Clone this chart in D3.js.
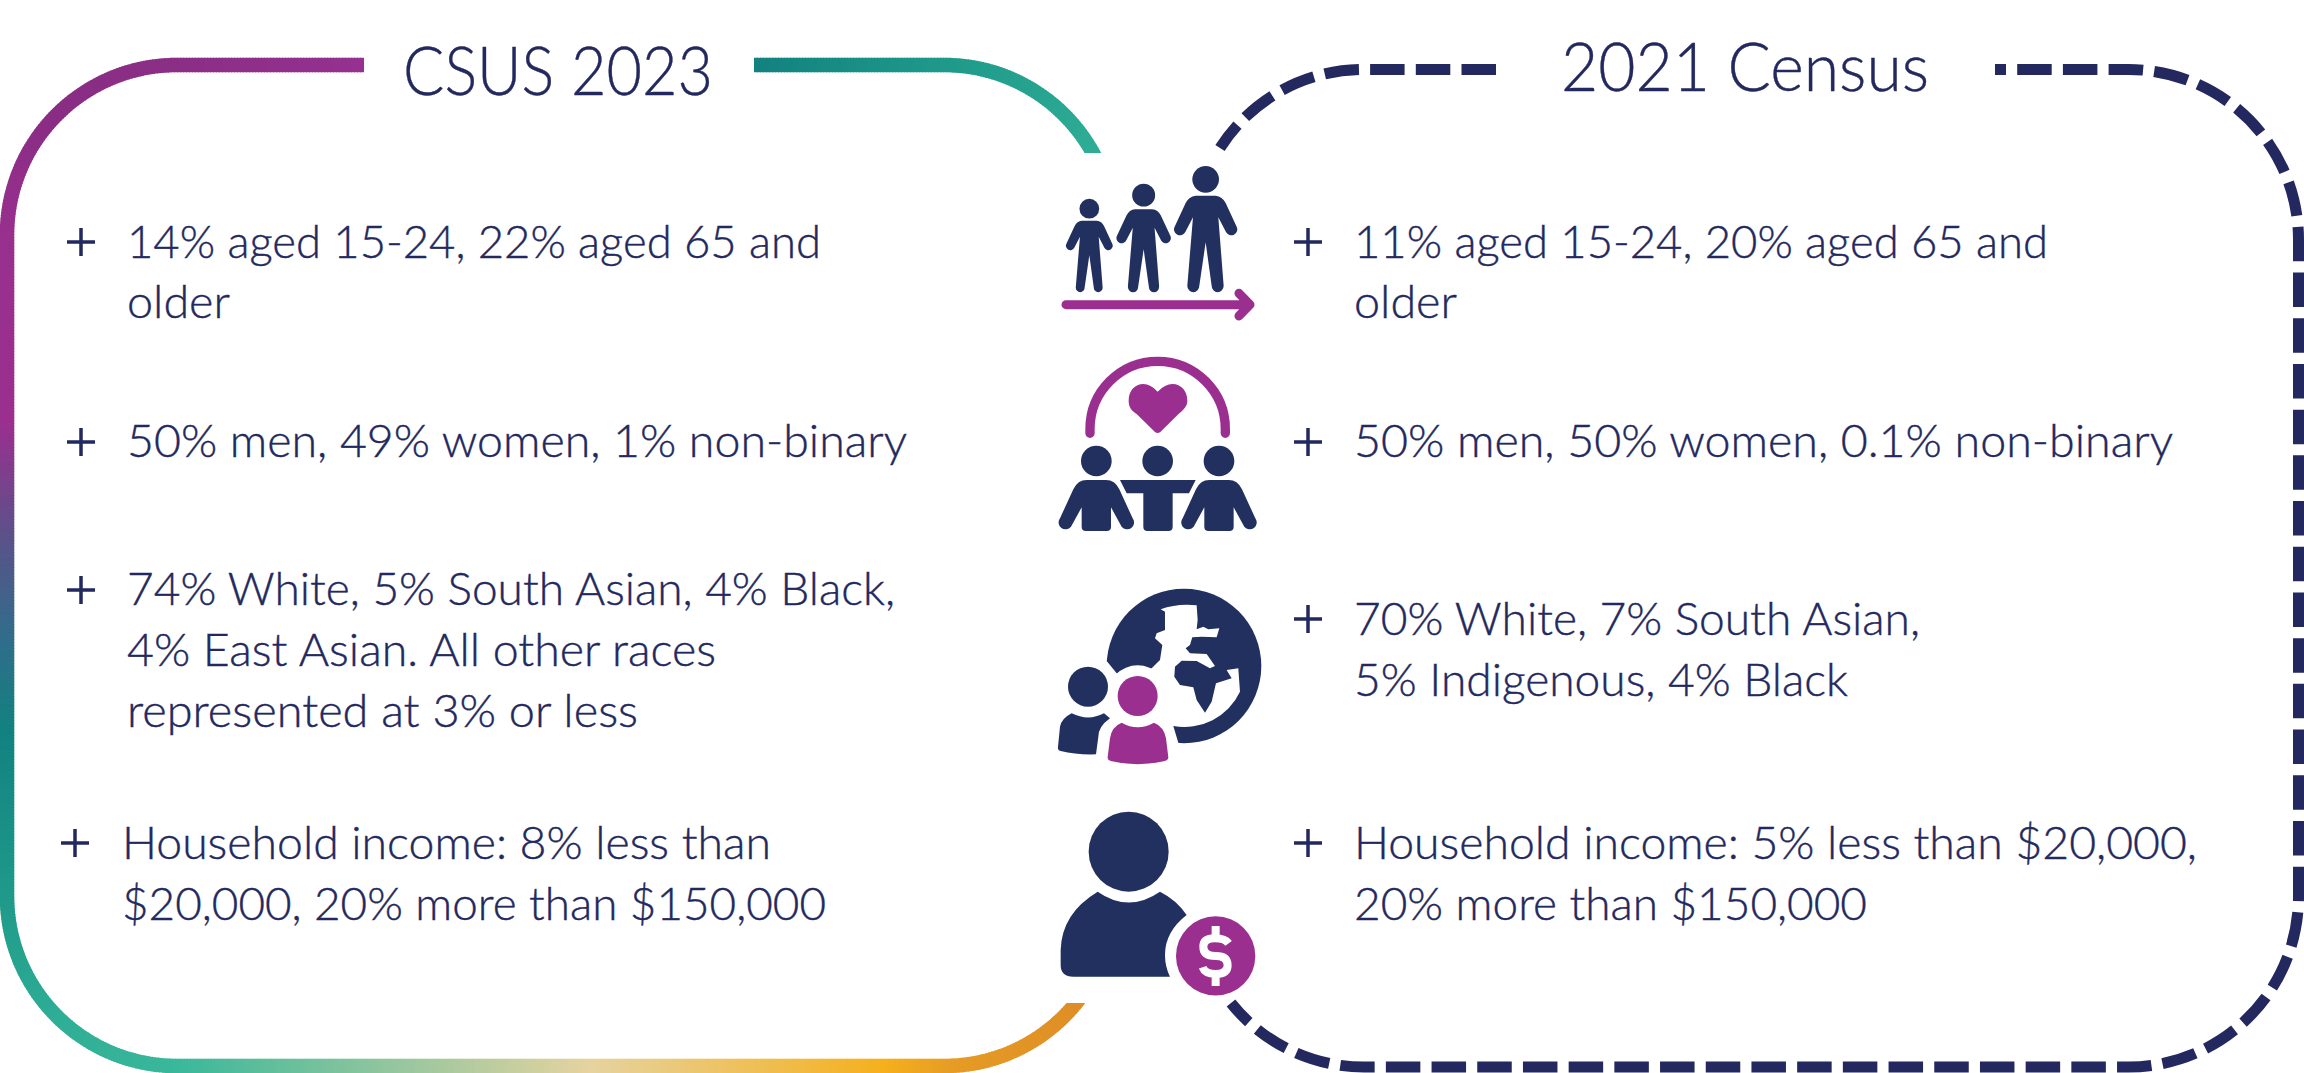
<!DOCTYPE html>
<html>
<head>
<meta charset="utf-8">
<script src="https://cdn.jsdelivr.net/npm/d3@7"></script>
<style>
  html, body { margin: 0; padding: 0; background: #fff; overflow: hidden; }
  text { font-family: Lato, "Noto Sans", sans-serif; font-weight: 300; fill: #23295e; stroke: #23295e; stroke-width: 0.4; }
</style>
</head>
<body>
<div id="chart"></div>
<script>
const titles = ["CSUS 2023", "2021 Census"];

const csusLines = [
    "14% aged 15-24, 22% aged 65 and",
    "older",
    "50% men, 49% women, 1% non-binary",
    "74% White, 5% South Asian, 4% Black,",
    "4% East Asian. All other races",
    "represented at 3% or less",
    "Household income: 8% less than",
    "$20,000, 20% more than $150,000"
];

const censusLines = [
    "11% aged 15-24, 20% aged 65 and",
    "older",
    "50% men, 50% women, 0.1% non-binary",
    "70% White, 7% South Asian,",
    "5% Indigenous, 4% Black",
    "Household income: 5% less than $20,000,",
    "20% more than $150,000"
];

// layout, same order as the text lists: [x0, x1, baseline]
const titleBoxes = [[403, 713, 95], [1561, 1929, 91]];
const csusBoxes = [[127, 821, 258], [127, 230, 318], [127, 907, 457], [127, 895, 605],
    [127, 716, 666], [127, 638, 727], [122, 771, 859], [122, 826, 920]];
const censusBoxes = [[1354, 2048, 258], [1354, 1457, 318], [1354, 2173, 457], [1354, 1920, 635],
    [1354, 1848, 696], [1354, 2197, 859], [1354, 1867, 920]];
const plusMarks = [[81, 242], [81, 442], [81, 590], [75, 843],
    [1308, 242], [1308, 442], [1308, 619], [1308, 843]];

const navy = "#21305e";
const purple = "#9b2f8f";
const ink = "#23295e";

// colour of the solid frame by distance along its path
const frameStops = [0, 187, 330, 454, 640, 752, 859, 949, 1115, 1250, 1382, 1793, 2087, 2160, 2300];
const frameColors = ["#953190", "#8b2e86", "#8a2d84", "#98308e", "#9b2f8f", "#5c5189", "#2f6e8a", "#128280",
    "#1f9a8a", "#2fae96", "#3ab89b", "#e6d3a0", "#f5b01d", "#e59b25", "#de8e26"];
const topRightStops = [0, 194, 380];
const topRightColors = ["#128280", "#1f9a8a", "#2fae96"];

const width = 2304;
const height = 1073;

const svg = d3.select("#chart").append("svg")
    .attr("width", width)
    .attr("height", height)
    .style("display", "block");

const defs = svg.append("defs");
const leftClip = defs.append("clipPath").attr("id", "leftClip");
leftClip.append("rect").attr("x", 0).attr("y", 0).attr("width", 700).attr("height", 1073);
leftClip.append("rect").attr("x", 700).attr("y", 1003).attr("width", 500).attr("height", 70);
defs.append("clipPath").attr("id", "topClip").append("rect")
    .attr("x", 700).attr("y", 0).attr("width", 500).attr("height", 153);

// solid frame, cut into short pieces so the colour can follow the line
function gradientStroke(d, stops, colors, clipId) {
    const probe = svg.append("path").attr("d", d).attr("fill", "none");
    const node = probe.node();
    const total = node.getTotalLength();
    const color = d3.scaleLinear().domain(stops).range(colors).clamp(true);
    const line = d3.line();
    const g = svg.append("g").attr("clip-path", "url(#" + clipId + ")");
    const step = 3;
    for (let s = 0; s < total; s += step) {
        const a = node.getPointAtLength(s);
        const b = node.getPointAtLength(Math.min(s + step + 1, total));
        g.append("path")
            .attr("d", line([[a.x, a.y], [b.x, b.y]]))
            .attr("fill", "none")
            .attr("stroke", color(s))
            .attr("stroke-width", 14.5);
    }
    probe.remove();
}

gradientStroke("M364,65 L177,65 A170,170 0 0 0 7,235 L7,896 A170,170 0 0 0 177,1066 L944,1066 A170,170 0 0 0 1114,896",
    frameStops, frameColors, "leftClip");
gradientStroke("M754,65 L944,65 A170,170 0 0 1 1114,235",
    topRightStops, topRightColors, "topClip");

// dashed frame
svg.append("path")
    .attr("d", "M1496,69.5 L1364,69.5 A170,170 0 0 0 1220,148")
    .attr("fill", "none").attr("stroke", ink).attr("stroke-width", 11)
    .attr("stroke-dasharray", "34.5 11.2");
svg.append("path")
    .attr("d", "M1995,69.5 L2128.5,69.5 A170,170 0 0 1 2298.5,239.5 L2298.5,897 A170,170 0 0 1 2128.5,1067 L1364,1067 A170,170 0 0 1 1231,1003")
    .attr("fill", "none").attr("stroke", ink).attr("stroke-width", 11)
    .attr("stroke-dasharray", "34.5 11.2")
    .attr("stroke-dashoffset", 23.5);

// text
function fittedText(lines, boxes, size) {
    svg.append("g").selectAll("text")
        .data(lines)
        .enter()
        .append("text")
        .attr("x", (d, i) => boxes[i][0])
        .attr("y", (d, i) => boxes[i][2])
        .attr("font-size", size)
        .attr("textLength", (d, i) => boxes[i][1] - boxes[i][0])
        .attr("lengthAdjust", "spacingAndGlyphs")
        .text(d => d);
}
fittedText(titles, titleBoxes, 67);
fittedText(csusLines, csusBoxes, 46);
fittedText(censusLines, censusBoxes, 46);

// plus bullets
svg.append("g").selectAll("path")
    .data(plusMarks)
    .enter()
    .append("path")
    .attr("d", d => "M" + (d[0] - 14) + "," + d[1] + "H" + (d[0] + 14) + "M" + d[0] + "," + (d[1] - 14) + "V" + (d[1] + 14))
    .attr("stroke", ink)
    .attr("stroke-width", 3.5)
    .attr("fill", "none");

// icons are sketched in crop pixels, 3x the page
const iconsTop = svg.append("g").attr("transform", "translate(1030,150) scale(0.3333)");
const iconsBottom = svg.append("g").attr("transform", "translate(1030,560) scale(0.3333)");

const standingBody = "M-30,-290 L30,-290 Q50,-288 60,-268 L93,-197 A17,17 0 0 1 61,-181 L38,-225 L54,-20 " +
    "A18,20 0 0 1 18,-20 L0,-150 L-19,-20 A18,20 0 0 1 -55,-20 L-38,-225 L-61,-181 A17,17 0 0 1 -93,-197 " +
    "L-60,-268 Q-50,-288 -30,-290 Z";

[[178, 0.74], [341, 0.86], [527, 1]].forEach(function (p) {
    const g = iconsTop.append("g").attr("transform", "translate(" + p[0] + ",427) scale(" + p[1] + ")");
    g.append("circle").attr("cy", -339).attr("r", 40).attr("fill", navy);
    g.append("path").attr("d", standingBody).attr("fill", navy);
});

iconsTop.append("path")
    .attr("d", "M108,464 H660 M627,430 L660,464 L627,498")
    .attr("fill", "none").attr("stroke", purple).attr("stroke-width", 27)
    .attr("stroke-linecap", "round").attr("stroke-linejoin", "round");

// couple of people and a table under a heart
iconsTop.append("path")
    .attr("d", "M180,850 L180,837 A203,203 0 0 1 586,837 L586,850")
    .attr("fill", "none").attr("stroke", purple).attr("stroke-width", 28).attr("stroke-linecap", "round");
iconsTop.append("path")
    .attr("d", "M383,725 Q362,702 340,702 C315,702 296,722 296,752 C296,772 305,782 320,792 L375,846 Q383,852 391,846 " +
        "L448,790 C462,778 472,768 472,752 C472,722 452,702 428,702 Q405,702 383,725 Z")
    .attr("fill", purple);

const seatedBody = "M170,990 L228,990 Q255,990 268,1018 L308,1105 A19,19 0 0 1 275,1130 L243,1072 L243,1130 " +
    "Q243,1143 230,1143 L168,1143 Q155,1143 155,1130 L155,1072 L123,1130 A19,19 0 0 1 90,1105 L130,1018 Q143,990 170,990 Z";
[0, 368].forEach(function (dx) {
    iconsTop.append("circle").attr("cx", 199 + dx).attr("cy", 933).attr("r", 46).attr("fill", navy);
    iconsTop.append("path").attr("d", seatedBody).attr("transform", "translate(" + dx + ",0)").attr("fill", navy);
});
iconsTop.append("circle").attr("cx", 383).attr("cy", 933).attr("r", 46).attr("fill", navy);
iconsTop.append("path")
    .attr("d", "M270,990 L497,990 L477,1030 L428,1030 L428,1130 Q428,1143 415,1143 L353,1143 Q340,1143 340,1130 L340,1030 L290,1030 Z")
    .attr("fill", navy);

// globe
iconsBottom.append("circle").attr("cx", 462).attr("cy", 318).attr("r", 232).attr("fill", navy);
iconsBottom.append("path")
    .attr("d", "M392,148 Q440,130 500,136 L503,180 L500,208 L520,200 L535,208 L568,205 L560,232 L515,230 L487,232 L480,255 L467,265 " +
        "L480,280 L530,282 L555,318 L540,325 L500,303 L455,302 L435,320 L433,350 L450,375 L490,382 L500,420 L525,458 L545,425 L558,370 " +
        "L605,355 L590,330 L625,325 L630,395 A184,184 0 0 1 430,498 L445,548 L445,620 L60,620 L60,300 L232,305 L260,340 " +
        "L365,325 L390,300 L397,255 L375,235 L380,220 L405,210 L405,155 Z")
    .attr("fill", "#fff");
iconsBottom.append("circle").attr("cx", 323).attr("cy", 408).attr("r", 92).attr("fill", "#fff");
iconsBottom.append("circle").attr("cx", 174).attr("cy", 380).attr("r", 60).attr("fill", navy);
iconsBottom.append("path")
    .attr("d", "M125,460 Q175,485 222,460 L240,475 Q205,500 205,530 L198,583 Q140,585 92,573 Q82,570 84,560 L90,500 Q95,475 125,460 Z")
    .attr("fill", navy);
iconsBottom.append("circle").attr("cx", 323).attr("cy", 408).attr("r", 60).attr("fill", purple);
iconsBottom.append("path")
    .attr("d", "M275,488 Q323,515 372,488 Q402,500 408,535 L415,592 Q415,600 405,603 Q323,622 242,603 Q232,600 233,592 L240,535 Q245,500 275,488 Z")
    .attr("fill", purple);

// person with a dollar coin
iconsBottom.append("circle").attr("cx", 296).attr("cy", 875).attr("r", 120).attr("fill", navy);
iconsBottom.append("path")
    .attr("d", "M203,995 Q296,1060 390,995 Q440,1020 470,1065 Q405,1115 405,1185 Q405,1220 420,1250 L130,1250 Q92,1250 92,1215 L92,1170 Q95,1060 203,995 Z")
    .attr("fill", navy);
iconsBottom.append("circle").attr("cx", 557).attr("cy", 1188).attr("r", 119).attr("fill", purple);
iconsBottom.append("path")
    .attr("d", "M596,1150 Q585,1135 555,1135 Q520,1135 520,1160 Q520,1188 557,1188 Q593,1188 593,1216 Q593,1242 557,1242 Q525,1242 518,1222 M557,1098 V1135 M557,1242 V1278")
    .attr("fill", "none").attr("stroke", "#fff").attr("stroke-width", 24);
</script>
</body>
</html>
